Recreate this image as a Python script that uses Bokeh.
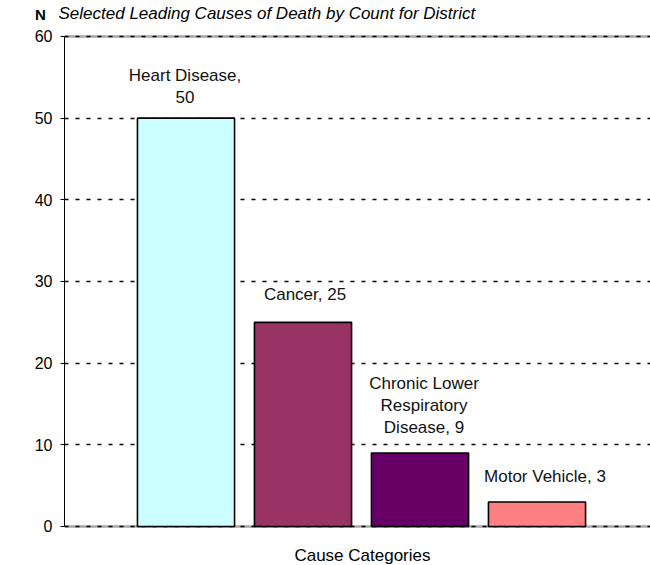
from bokeh.plotting import figure
from bokeh.layouts import column
from bokeh.models import (ColumnDataSource, LinearAxis, FixedTicker, Range1d, Span)
from bokeh.embed import file_html
from bokeh.resources import INLINE
from bokeh.core.properties import value

# ---- data ----
causes = ["Heart Disease", "Cancer", "Chronic Lower Respiratory Disease", "Motor Vehicle"]
counts = [50, 25, 9, 3]
label_texts = ["Heart Disease,\n50", "Cancer, 25", "Chronic Lower\nRespiratory\nDisease, 9", "Motor Vehicle, 3"]
y_ticks = [0, 10, 20, 30, 40, 50, 60]
title_text = "Selected Leading Causes of Death by Count for District"
x_title = "Cause Categories"
y_title = "N"

# ---- styles ----
bar_colors = ["#CCFFFF", "#993366", "#660066", "#FF8080"]
label_dx = [-1, 2, 4, 8]
label_dy = [-11, -18, -16, -16]
FONT = "Liberation Sans"
W = 650
HEAD_H = 26
MAIN_H = 539

# ---- header (title and y-axis caption) ----
head = figure(width=W, height=HEAD_H, output_backend="svg", toolbar_location=None,
              x_range=Range1d(0, W), y_range=Range1d(HEAD_H, 0),
              x_axis_location=None, y_axis_location=None,
              min_border_left=0, min_border_right=0, min_border_top=0,
              min_border_bottom=0)
head.outline_line_color = None
head.xgrid.visible = False
head.ygrid.visible = False
head.text(x=[58], y=[13], text=[title_text], text_align="left",
          text_baseline="alphabetic", text_font=value(FONT),
          text_font_size="17px", text_font_style="italic", text_color="black")
head.text(x=[40], y=[14], text=[y_title], text_align="center",
          text_baseline="middle", text_font=value(FONT),
          text_font_size="15px", text_font_style="bold", text_color="black")

# ---- main chart ----
positions = [i + 1 for i in range(len(causes))]
src = ColumnDataSource(dict(x=positions, top=counts, color=bar_colors,
                            label=label_texts, dx=label_dx, dy=label_dy))

p = figure(width=W, height=MAIN_H, output_backend="svg", toolbar_location=None,
           x_range=Range1d(-0.0385, 4.970), y_range=Range1d(-4.776, 61.224),
           x_axis_location=None, y_axis_location=None,
           min_border_left=64, min_border_right=0, min_border_top=0,
           min_border_bottom=0)
p.outline_line_color = None

for fig in (head, p):
    try:
        fig.frame_align = False
    except Exception:
        pass

yaxis = LinearAxis(ticker=FixedTicker(ticks=y_ticks), bounds=(0, 60))
yaxis.axis_line_color = "black"
yaxis.axis_line_width = 1
yaxis.major_tick_line_color = "black"
yaxis.major_tick_out = 4
yaxis.major_tick_in = 0
yaxis.minor_tick_line_color = None
yaxis.major_label_standoff = 8
yaxis.major_label_text_font = FONT
yaxis.major_label_text_font_size = "16px"
yaxis.major_label_text_color = "black"
p.add_layout(yaxis, "left")

p.xgrid.visible = False
p.ygrid.ticker = FixedTicker(ticks=y_ticks)
p.ygrid.grid_line_color = "black"
p.ygrid.grid_line_dash = "4 7"
p.ygrid.grid_line_width = 1.5

for v in (y_ticks[0], y_ticks[-1]):
    p.add_layout(Span(location=v, dimension="width", line_color="#a6a6a6",
                      line_width=2.5, level="image"))

p.vbar(x="x", top="top", bottom=0, width=0.83, fill_color="color",
       line_color="black", line_width=1.6, source=src)

p.text(x="x", y="top", text="label", x_offset="dx", y_offset="dy",
       text_align="center", text_baseline="bottom",
       text_font=value(FONT), text_font_size="17px", text_color="#111111",
       text_line_height=1.15, source=src)

p.text(x=[2.508], y=[-3.61], text=[x_title], text_align="center",
       text_baseline="middle", text_font=value(FONT),
       text_font_size="17px", text_color="black")

layout = column(head, p, spacing=0)
open("out.html", "w").write(file_html(layout, INLINE))
